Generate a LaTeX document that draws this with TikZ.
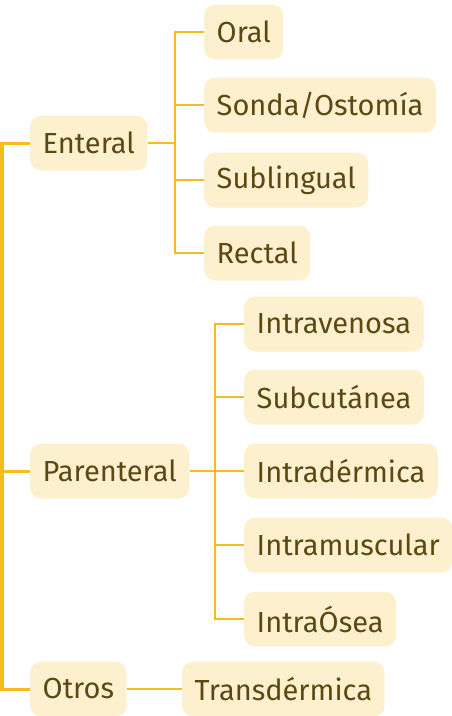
\documentclass[tikz,border=0pt]{standalone}
\usepackage{fontspec}
\setmainfont{Fira Sans}
\usetikzlibrary{positioning}
\definecolor{ramal}{HTML}{F4BC1C}
\definecolor{caja}{HTML}{FDF0CF}
\definecolor{letra}{HTML}{5B4812}

\begin{document}
\begin{tikzpicture}[x=1pt, y=-1pt,
            via/.style={rounded corners=11pt, fill=caja, text=letra, anchor=west,
              minimum height=55pt, inner xsep=12.5pt, font=\fontsize{29}{32}\selectfont},
            tronco/.style={draw=ramal, line width=3pt},
            rama/.style={draw=ramal, line width=1.6pt}
        ]
          \useasboundingbox (0,0) rectangle (452,716);
          \node[via] (enteral)    at (30,143) {Enteral};
          \node[via] (parenteral) at (30,471) {Parenteral};
          \node[via] (otros)      at (30,689) {Otros};
          \node[via] (oral)       at (204,32)  {Oral};
          \node[via] (sonda)      at (204,105) {Sonda/Ostomía};
          \node[via] (sublingual) at (204,180) {Sublingual};
          \node[via] (rectal)     at (204,253) {Rectal};
          \node[via] (intravenosa)   at (244,324) {Intravenosa};
          \node[via] (subcutanea)    at (244,397) {Subcutánea};
          \node[via] (intradermica)  at (244,471) {Intradérmica};
          \node[via] (intramuscular) at (244,545) {Intramuscular};
          \node[via] (intraosea)     at (244,619) {IntraÓsea};
          \node[via] (transdermica)  at (182,689) {Transdérmica};
          \draw[tronco] (enteral.west) -- ++(-28,0) |- (otros.west);
          \draw[tronco] (parenteral.west) -- ++(-28,0);
          \foreach \h in {oral,sonda,sublingual,rectal}
            \draw[rama] (\h.west) -- ++(-29,0) |- (enteral.east);
          \foreach \h in {intravenosa,subcutanea,intradermica,intramuscular,intraosea}
            \draw[rama] (\h.west) -- ++(-29,0) |- (parenteral.east);
          \draw[rama] (otros) -- (transdermica);
        \end{tikzpicture}
\end{document}
